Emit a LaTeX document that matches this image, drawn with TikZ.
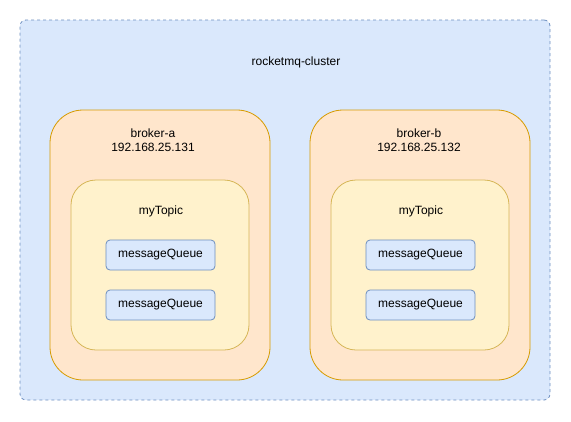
\documentclass[tikz,border=0pt]{standalone}
\usepackage{fontspec}
\setmainfont{Liberation Sans}
\usepackage{tikz}
\usetikzlibrary{positioning}

\definecolor{clusterfill}{HTML}{DAE8FC}
\definecolor{clusterline}{HTML}{6C8EBF}
\definecolor{brokerfill}{HTML}{FFE6CC}
\definecolor{brokerline}{HTML}{D79B00}
\definecolor{topicfill}{HTML}{FFF2CC}
\definecolor{topicline}{HTML}{D6B656}

\begin{document}
\begin{tikzpicture}[
    x=1pt, y=-1pt,
    every node/.style={font=\fontsize{12}{14}\selectfont, align=center, inner sep=0pt, outer sep=0pt},
    cluster/.style={rectangle, draw=clusterline, fill=clusterfill, line width=0.8pt, dash pattern=on 3pt off 3pt, rounded corners=6pt, minimum width=530pt, minimum height=380pt},
    broker/.style={rectangle, draw=brokerline, fill=brokerfill, line width=0.8pt, rounded corners=33pt, minimum width=220pt, minimum height=270pt},
    topic/.style={rectangle, draw=topicline, fill=topicfill, line width=0.8pt, rounded corners=25pt, minimum width=178pt, minimum height=170pt},
    queue/.style={rectangle, draw=clusterline, fill=clusterfill, line width=0.8pt, rounded corners=4pt, minimum width=109pt, minimum height=30pt}
]
\useasboundingbox (0,0) rectangle (571,421);
\node[cluster] (cl) at (285, 210) {};
\node (cllbl) at (296, 62) {rocketmq-cluster};

% broker-a
\node[broker] (ba) at (160, 245) {};
\node (balbl) at (153, 140) {broker-a\\192.168.25.131};
\node[topic] (ta) at (160, 265) {};
\node (talbl) at (161, 211) {myTopic};
\node[queue] (qa1) at (160.5, 255) {messageQueue};
\node[queue] (qa2) at (160.5, 305) {messageQueue};

% broker-b
\node[broker] (bb) at (420, 245) {};
\node (bblbl) at (419, 140) {broker-b\\192.168.25.132};
\node[topic] (tb) at (420, 265) {};
\node (tblbl) at (421, 211) {myTopic};
\node[queue] (qb1) at (420.5, 255) {messageQueue};
\node[queue] (qb2) at (420.5, 305) {messageQueue};
\end{tikzpicture}
\end{document}
